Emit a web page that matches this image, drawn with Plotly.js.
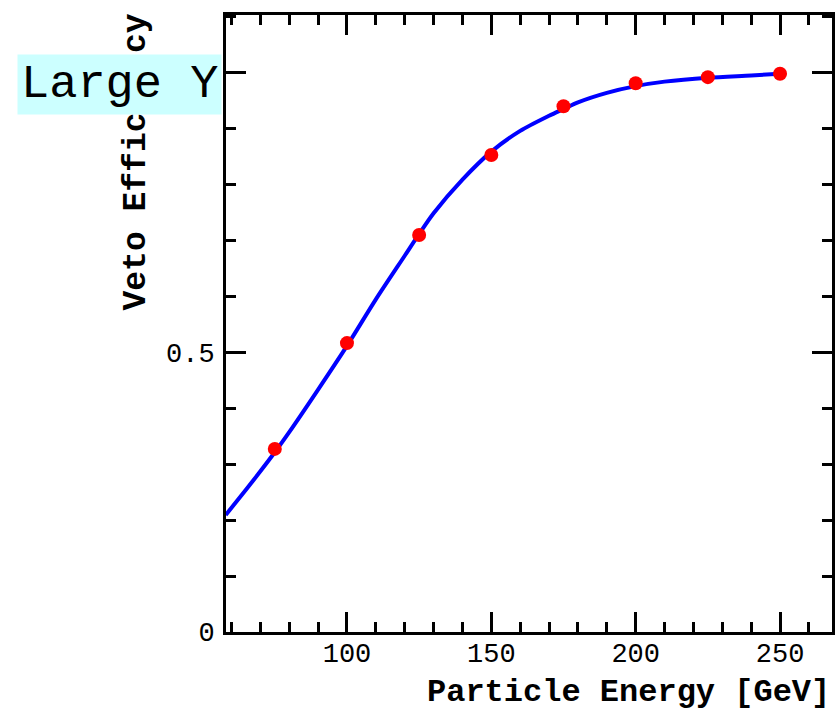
<!DOCTYPE html>
<html>
<head>
<meta charset="utf-8">
<script src="https://cdn.plot.ly/plotly-3.0.1.min.js"></script>
<style>html,body{margin:0;padding:0;background:#fff;}#chart{width:837px;height:716px;}</style>
</head>
<body>
<div id="chart"></div>
<script>
// Measured data points (red markers)
const energy = [75, 100, 125, 150, 175, 200, 225, 250];
const efficiency = [0.327, 0.516, 0.709, 0.852, 0.939, 0.980, 0.991, 0.997];

// Fitted curve (blue line)
const curveEnergy = [58, 65, 70, 75, 80, 90, 100, 110, 120, 125, 130, 140, 150, 160, 170, 175, 180, 190, 200, 210, 225, 240, 250];
const curveEff = [0.209, 0.254, 0.287, 0.321, 0.357, 0.433, 0.511, 0.594, 0.672, 0.711, 0.748, 0.808, 0.858, 0.895, 0.922, 0.934, 0.946, 0.963, 0.975, 0.983, 0.990, 0.994, 0.997];

const xTickVals = [100, 150, 200, 250];
const xTickText = ['100', '150', '200', '250'];
const yTickVals = [0, 0.5, 1];
const yTickText = ['0', '0.5', ''];

const xTitle = 'Particle Energy [GeV]';
const yTitle = 'Veto Efficiency';
const boxLabel = 'Large Y';

const mono = '"Liberation Mono", "Courier New", Courier, monospace';

const traces = [
  {
    x: curveEnergy, y: curveEff, type: 'scatter', mode: 'lines',
    line: {color: '#0000ff', width: 4, shape: 'spline', smoothing: 0.8},
    hoverinfo: 'skip', showlegend: false
  },
  {
    x: energy, y: efficiency, type: 'scatter', mode: 'markers',
    marker: {color: '#ff0000', size: 14},
    showlegend: false
  }
];

const axisCommon = {
  showgrid: false, zeroline: false,
  showline: true, linecolor: '#000', linewidth: 3,
  mirror: 'ticks', ticks: 'inside', tickcolor: '#000', tickwidth: 3,
  tickfont: {family: mono, size: 27, color: '#000'}
};

const layout = {
  width: 837, height: 716,
  margin: {l: 226, r: 5, t: 15, b: 84},
  paper_bgcolor: '#fff', plot_bgcolor: '#fff',
  xaxis: Object.assign({}, axisCommon, {
    range: [58.1, 268], tickvals: xTickVals, ticktext: xTickText,
    ticklen: 20, ticklabelstandoff: -5,
    minor: {dtick: 10, tick0: 0, ticklen: 10, tickwidth: 3, tickcolor: '#000', ticks: 'inside'}
  }),
  yaxis: Object.assign({}, axisCommon, {
    range: [0, 1.102], tickvals: yTickVals, ticktext: yTickText,
    ticklen: 20, ticklabelstandoff: 3,
    minor: {dtick: 0.1, tick0: 0, ticklen: 10, tickwidth: 3, tickcolor: '#000', ticks: 'inside'}
  }),
  annotations: [
    {
      text: '<b>' + xTitle + '</b>', xref: 'paper', yref: 'paper',
      x: 1, y: 0, xanchor: 'right', yanchor: 'top', yshift: -40,
      showarrow: false, font: {family: mono, size: 32, color: '#000'}
    },
    {
      text: '<b>' + yTitle + '</b>', xref: 'paper', yref: 'paper', textangle: -90,
      x: 0, y: 1, xanchor: 'center', yanchor: 'top', xshift: -90, yshift: 3,
      showarrow: false, font: {family: mono, size: 33, color: '#000'}
    },
    {
      text: boxLabel, xref: 'paper', yref: 'paper',
      x: 0, y: 1, xanchor: 'right', yanchor: 'top', xshift: -4, yshift: -39,
      showarrow: false, bgcolor: '#ccffff', borderpad: 3,
      font: {family: mono, size: 47, color: '#000'}
    }
  ]
};

Plotly.newPlot('chart', traces, layout, {displayModeBar: false, staticPlot: true});
</script>
</body>
</html>
